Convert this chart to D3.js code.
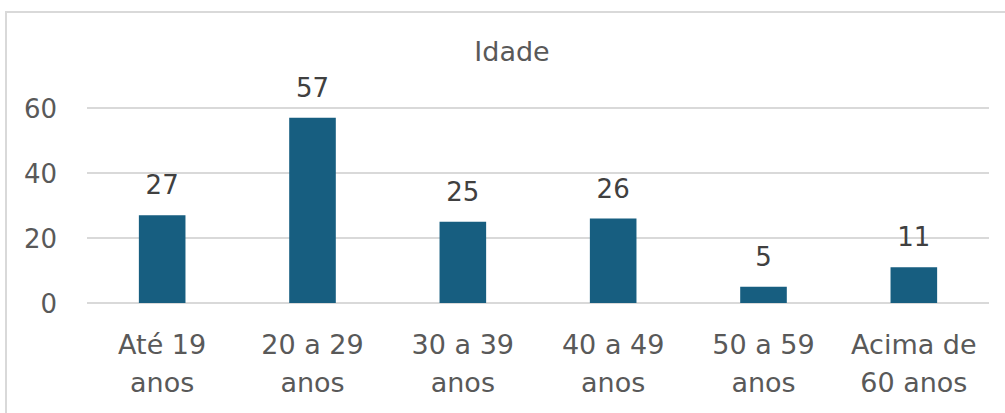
<!DOCTYPE html>
<html>
<head>
<meta charset="utf-8">
<script src="https://cdn.jsdelivr.net/npm/d3@7"></script>
<style>
html,body{margin:0;padding:0;background:#fff;}
svg{display:block;font-family:"DejaVu Sans",sans-serif;}
</style>
</head>
<body>
<svg id="chart" width="1005" height="413"></svg>
<script>
const categories = [["Até 19","anos"],["20 a 29","anos"],["30 a 39","anos"],["40 a 49","anos"],["50 a 59","anos"],["Acima de","60 anos"]];
const values = [27, 57, 25, 26, 5, 11];
const yTicks = [0, 20, 40, 60];
const title = "Idade";

const svg = d3.select("#chart");
const textColor = "#595959";
const gridColor = "#d9d9d9";
const barColor = "#175e80";
const font = "DejaVu Sans, sans-serif";

// chart border
svg.append("rect").attr("x", 6).attr("y", 12).attr("width", 1010).attr("height", 420)
  .attr("fill", "none").attr("stroke", gridColor).attr("stroke-width", 2);

const x = d3.scaleBand().domain(d3.range(categories.length)).range([87, 989]).paddingInner(0.69).paddingOuter(0.345);
const y = d3.scaleLinear().domain([0, 60]).range([303, 108]);

// gridlines
svg.append("g").selectAll("line").data(yTicks).join("line")
  .attr("x1", 87).attr("x2", 989)
  .attr("y1", d => y(d)).attr("y2", d => y(d))
  .attr("stroke", gridColor).attr("stroke-width", 2);

// y axis labels
const yAxis = d3.axisLeft(y).tickValues(yTicks).tickSize(0).tickPadding(0);
const yg = svg.append("g").attr("transform", "translate(57,0)").call(yAxis);
yg.select(".domain").remove();
yg.selectAll("text").attr("fill", textColor).attr("font-size", 26).attr("font-family", font).attr("dy", "0.36em");

// bars
svg.append("g").selectAll("rect").data(values).join("rect")
  .attr("x", (d, i) => x(i)).attr("width", x.bandwidth())
  .attr("y", d => y(d)).attr("height", d => y(0) - y(d))
  .attr("fill", barColor);

// data labels
svg.append("g").selectAll("text").data(values).join("text")
  .attr("x", (d, i) => x(i) + x.bandwidth() / 2)
  .attr("y", d => y(d) - 21)
  .attr("text-anchor", "middle").attr("font-size", 26).attr("fill", "#404040")
  .text(d => d);

// x axis labels
const xl = svg.append("g").selectAll("text").data(categories).join("text")
  .attr("x", (d, i) => x(i) + x.bandwidth() / 2)
  .attr("text-anchor", "middle").attr("font-size", 27).attr("fill", textColor);
xl.selectAll("tspan").data(d => d).join("tspan")
  .attr("x", function() { return this.parentNode.getAttribute("x"); })
  .attr("y", (d, j) => 354 + j * 37.5)
  .text(d => d);

// title
svg.append("text").attr("x", 512).attr("y", 61).attr("text-anchor", "middle")
  .attr("font-size", 27).attr("fill", textColor).text(title);
</script>
</body>
</html>
